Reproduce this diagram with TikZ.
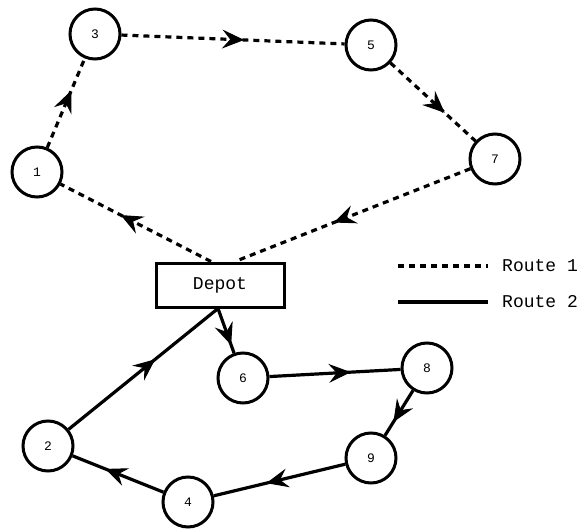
\documentclass[tikz,border=0pt]{standalone}
\usepackage{fontspec}
\setmainfont{Liberation Mono}
\usetikzlibrary{arrows.meta,decorations.markings}
\tikzset{
  city/.style={circle,draw,line width=3pt,minimum size=50pt,inner sep=0pt,font=\fontsize{13}{15}\selectfont},
  depotbox/.style={rectangle,draw,line width=3pt,minimum width=128pt,minimum height=44pt,font=\fontsize{18}{20}\selectfont},
  routeone/.style={line width=3.2pt,dash pattern=on 6pt off 5pt},
  routetwo/.style={line width=3.2pt},
  midarrow/.style={postaction={decorate,decoration={markings,mark=at position #1 with {\arrow[solid,line width=1pt]{Stealth[length=22pt,width=19pt,inset=8pt]}}}}},
  legendtext/.style={anchor=west,inner sep=3pt,font=\fontsize{18}{20}\selectfont}
}
\begin{document}
\begin{tikzpicture}[x=1pt,y=-1pt]
\useasboundingbox (0,0) rectangle (583,529);
\node[city] (n3) at (95,34) {3};
\node[city] (n5) at (371,45) {5};
\node[city] (n1) at (37,172) {1};
\node[city] (n7) at (495,159) {7};
\node[depotbox] (dep) at (220,285) {Depot};
\node[city] (n6) at (243,378) {6};
\node[city] (n8) at (427,368) {8};
\node[city] (n9) at (371,458) {9};
\node[city] (n4) at (188,502) {4};
\node[city] (n2) at (48,446) {2};
\coordinate (dta) at ([xshift=-9pt]dep.north);
\coordinate (dtb) at ([xshift=15pt]dep.north);
\coordinate (dba) at ([xshift=-2pt]dep.south);
% Route 1
\draw[routeone,midarrow=0.6] (dta) -- (n1);
\draw[routeone,midarrow=0.64] (n1) -- (n3);
\draw[routeone,midarrow=0.55] (n3) -- (n5);
\draw[routeone,midarrow=0.64] (n5) -- (n7);
\draw[routeone,midarrow=0.58] (n7) -- (dtb);
% Route 2
\draw[routetwo,midarrow=0.82] (dba) -- (n6);
\draw[routetwo,midarrow=0.62] (n6) -- (n8);
\draw[routetwo,midarrow=0.7] (n8) -- (n9);
\draw[routetwo,midarrow=0.6] (n9) -- (n4);
\draw[routetwo,midarrow=0.64] (n4) -- (n2);
\draw[routetwo,midarrow=0.58] (n2) -- (dba);
% Legend
\coordinate (la) at (398,266);
\coordinate (lb) at (488,266);
\coordinate (lc) at (398,302);
\coordinate (ld) at (488,302);
\draw[routeone] (la) -- (lb);
\draw[routetwo] (lc) -- (ld);
\node[legendtext] (t1) at (499,266) {Route 1};
\node[legendtext] (t2) at (499,302) {Route 2};
\end{tikzpicture}
\end{document}
